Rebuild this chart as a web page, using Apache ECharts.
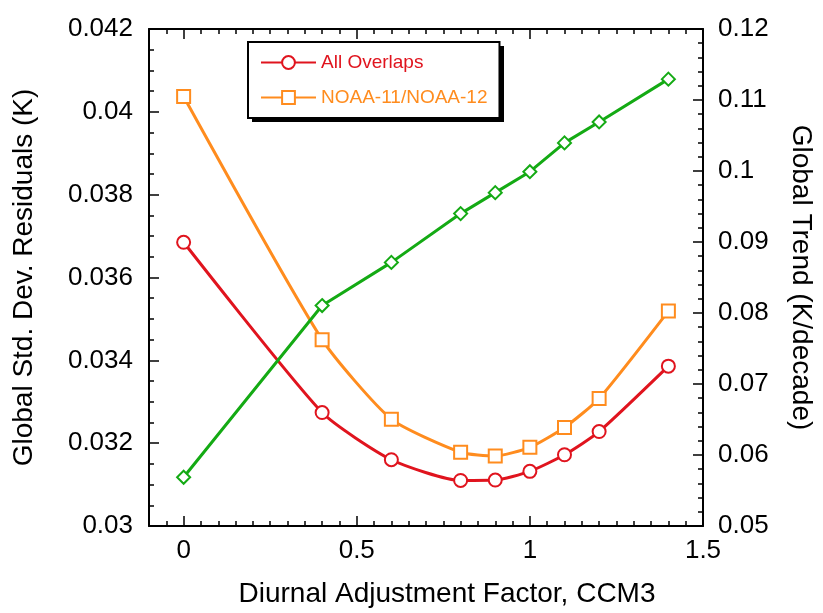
<!DOCTYPE html>
<html>
<head>
<meta charset="utf-8">
<script src="https://cdn.jsdelivr.net/npm/echarts@6/dist/echarts.min.js"></script>
<style>html,body{margin:0;padding:0;background:#fff}#c{width:823px;height:613px}</style>
</head>
<body>
<div id="c"></div>
<script>
// ---- data ----
const xValues = [0, 0.4, 0.6, 0.8, 0.9, 1.0, 1.1, 1.2, 1.4];
const allOverlaps = [0.03685, 0.03274, 0.03160, 0.03110, 0.03111, 0.03132, 0.03172, 0.03228, 0.03386];
const noaa1112 = [0.04037, 0.03450, 0.03258, 0.03178, 0.03169, 0.03190, 0.03238, 0.03308, 0.03519];
const globalTrend = [0.05687, 0.08105, 0.08713, 0.0940, 0.09695, 0.0999, 0.10396, 0.10691, 0.11294];
const xTickLabels = [0, 0.5, 1, 1.5];
const seriesNames = ['All Overlaps', 'NOAA-11/NOAA-12', 'Global Trend'];

const FONT = 'Liberation Sans, Arial, Helvetica, sans-serif';
const RED = '#e0141e', ORANGE = '#ff8c1e', GREEN = '#14aa14';
const pair = (xs, ys) => xs.map((x, i) => [x, ys[i]]);

const mkLine = () => ({show: true, lineStyle: {color: '#000', width: 2}, onZero: false});
const mkTick = () => ({color: '#000', width: 1.5});
const baseX = () => ({type: 'value', min: -0.1, max: 1.5, splitLine: {show: false}});
const chart = echarts.init(document.getElementById('c'));
chart.setOption({
  animation: false,
  textStyle: {fontFamily: FONT},
  grid: {left: 149, right: 120, top: 29, bottom: 85},
  graphic: [{
    type: 'rect', z: 0, left: 252, top: 46,
    shape: {width: 252, height: 76},
    style: {fill: '#000'}
  }],
  legend: {
    z: 5,
    data: [
      {name: seriesNames[0], textStyle: {color: RED}},
      {name: seriesNames[1], textStyle: {color: ORANGE}}
    ],
    orient: 'vertical', left: 248, top: 42,
    padding: [11, 12, 11, 12],
    itemWidth: 55, itemHeight: 16, itemGap: 16,
    textStyle: {fontSize: 19, fontFamily: FONT},
    backgroundColor: '#fff', borderColor: '#000', borderWidth: 2
  },
  xAxis: [
    Object.assign(baseX(), {position: 'bottom', interval: 0.05, axisLine: mkLine(),
      axisTick: {show: true, inside: true, length: 5, lineStyle: mkTick()},
      axisLabel: {show: false}}),
    Object.assign(baseX(), {position: 'bottom', axisLine: {show: false, onZero: false},
      axisTick: {show: true, inside: true, length: 10, customValues: xTickLabels, lineStyle: mkTick()},
      axisLabel: {customValues: xTickLabels, fontSize: 26, color: '#000', margin: 12, fontFamily: FONT,
        formatter: v => String(+(+v).toFixed(2))},
      name: 'Diurnal Adjustment Factor, CCM3', nameLocation: 'middle', nameGap: 54,
      nameTextStyle: {fontSize: 28, color: '#000', fontFamily: FONT, padding: [0, 0, 0, 42]}}),
    Object.assign(baseX(), {position: 'top', interval: 0.05, axisLine: mkLine(),
      axisTick: {show: true, inside: true, length: 5, lineStyle: mkTick()},
      axisLabel: {show: false}}),
    Object.assign(baseX(), {position: 'top', axisLine: {show: false, onZero: false},
      axisTick: {show: true, inside: true, length: 10, customValues: xTickLabels, lineStyle: mkTick()},
      axisLabel: {show: false}})
  ],
  yAxis: [
    {type: 'value', position: 'left', min: 0.03, max: 0.042, interval: 0.002,
      axisLine: mkLine(), splitLine: {show: false},
      axisTick: {show: true, inside: true, length: 10, lineStyle: mkTick()},
      minorTick: {show: true, splitNumber: 4, length: 5, lineStyle: mkTick()},
      axisLabel: {fontSize: 26, color: '#000', margin: 16, fontFamily: FONT,
        formatter: v => String(+v.toFixed(3))},
      name: 'Global Std. Dev. Residuals (K)', nameLocation: 'middle', nameGap: 111,
      nameTextStyle: {fontSize: 28, color: '#000', fontFamily: FONT}},
    {type: 'value', position: 'right', min: 0.05, max: 0.12, interval: 0.01,
      axisLine: mkLine(), splitLine: {show: false},
      axisTick: {show: true, inside: true, length: 10, lineStyle: mkTick()},
      minorTick: {show: true, splitNumber: 5, length: 5, lineStyle: mkTick()},
      axisLabel: {fontSize: 26, color: '#000', margin: 15, fontFamily: FONT,
        formatter: v => String(+v.toFixed(2))},
      name: 'Global Trend (K/decade)', nameLocation: 'middle', nameGap: 84, nameRotate: -90,
      nameTextStyle: {fontSize: 28, color: '#000', fontFamily: FONT}}
  ],
  series: [
    {name: seriesNames[0], type: 'line', xAxisIndex: 1, yAxisIndex: 0, data: pair(xValues, allOverlaps),
      smooth: 0.2, symbol: 'emptyCircle', symbolSize: 13, z: 3,
      lineStyle: {color: RED, width: 3}, itemStyle: {color: RED, borderWidth: 1.5}},
    {name: seriesNames[1], type: 'line', xAxisIndex: 1, yAxisIndex: 0, data: pair(xValues, noaa1112),
      smooth: 0.2, symbol: 'emptyRect', symbolSize: 13, z: 3,
      lineStyle: {color: ORANGE, width: 3}, itemStyle: {color: ORANGE, borderWidth: 1.5}},
    {name: seriesNames[2], type: 'line', xAxisIndex: 1, yAxisIndex: 1, data: pair(xValues, globalTrend),
      symbol: 'emptyDiamond', symbolSize: 13, z: 3,
      lineStyle: {color: GREEN, width: 3}, itemStyle: {color: GREEN, borderWidth: 1.5}}
  ]
});
</script>
</body>
</html>
